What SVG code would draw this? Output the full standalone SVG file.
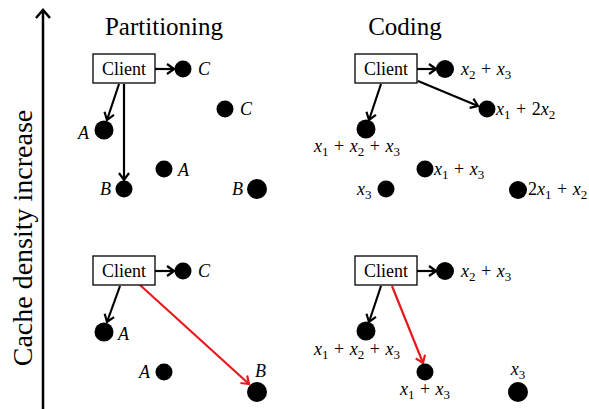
<svg xmlns="http://www.w3.org/2000/svg" width="589" height="409" viewBox="0 0 589 409" font-family="Liberation Serif">
<style>
.t{font-size:25px;text-anchor:middle}
.cl{font-size:18px;text-anchor:middle}
.lb{font-size:18px;font-style:italic}
.m{font-size:18px;word-spacing:1px}
.i{font-style:italic}
.s{font-size:13px}
.box{fill:#fff;stroke:#000;stroke-width:1.3}
.n{fill:#000}
.e{stroke:#000;stroke-width:2.2;fill:none}
.r{stroke:#e8181c;stroke-width:2.2;fill:none}
</style>
<defs>
<marker id="ah" viewBox="0 0 10 12" markerWidth="10" markerHeight="12" refX="9" refY="6" orient="auto" markerUnits="userSpaceOnUse">
<path d="M2,1 L9,6 L2,11" fill="none" stroke="#000" stroke-width="2.2"/>
</marker>
<marker id="ahr" viewBox="0 0 10 12" markerWidth="10" markerHeight="12" refX="9" refY="6" orient="auto" markerUnits="userSpaceOnUse">
<path d="M2,1 L9,6 L2,11" fill="none" stroke="#e8181c" stroke-width="2.2"/>
</marker>
</defs>

<g id="axis">
<line x1="43" y1="409" x2="43" y2="11" stroke="#000" stroke-width="2.5"/>
<polyline points="36,18 43,10 50,18" fill="none" stroke="#000" stroke-width="2.5"/>
<text transform="translate(32,238) rotate(-90)" font-family="Liberation Serif" font-size="28" text-anchor="middle">Cache density increase</text>
</g>

<g id="titles" font-family="Liberation Serif">
<text class="t" x="164" y="35">Partitioning</text>
<text class="t" x="405" y="35">Coding</text>
</g>

<g id="connectors">
<line class="e" x1="155" y1="69" x2="174" y2="69" marker-end="url(#ah)"/>
<line class="e" x1="119" y1="84" x2="107" y2="120" marker-end="url(#ah)"/>
<line class="e" x1="124" y1="84" x2="124" y2="180" marker-end="url(#ah)"/>
<line class="e" x1="417" y1="69" x2="436" y2="69" marker-end="url(#ah)"/>
<line class="e" x1="418" y1="81" x2="478" y2="106" marker-end="url(#ah)"/>
<line class="e" x1="381" y1="84" x2="369" y2="120" marker-end="url(#ah)"/>
<line class="e" x1="155" y1="271" x2="174" y2="271" marker-end="url(#ah)"/>
<line class="e" x1="120" y1="286" x2="107" y2="322" marker-end="url(#ah)"/>
<line class="r" x1="140" y1="285" x2="249" y2="384" marker-end="url(#ahr)"/>
<line class="e" x1="417" y1="271" x2="436" y2="271" marker-end="url(#ah)"/>
<line class="e" x1="381" y1="286" x2="369" y2="322" marker-end="url(#ah)"/>
<line class="r" x1="392" y1="286" x2="423" y2="363" marker-end="url(#ahr)"/>
</g>

<g id="nodes" font-family="Liberation Serif">
<g id="client-p1"><rect class="box" x="93" y="54" width="62" height="29"/><text class="cl" x="124" y="75">Client</text></g>
<g id="p1-C"><circle class="n" cx="183" cy="69" r="8.5"/><text class="lb" x="198" y="75">C</text></g>
<g id="p1-A"><circle class="n" cx="104" cy="130" r="9.5"/><text class="lb" x="78" y="139">A</text></g>
<g id="p1-B"><circle class="n" cx="124" cy="189" r="8.5"/><text class="lb" x="100" y="195">B</text></g>
<g id="p1-C2"><circle class="n" cx="225" cy="109" r="8.5"/><text class="lb" x="240" y="115">C</text></g>
<g id="p1-A2"><circle class="n" cx="164" cy="169" r="8.5"/><text class="lb" x="178" y="176">A</text></g>
<g id="p1-B2"><circle class="n" cx="257" cy="189" r="10"/><text class="lb" x="232" y="195">B</text></g>

<g id="client-c1"><rect class="box" x="355" y="54" width="62" height="29"/><text class="cl" x="386" y="75">Client</text></g>
<g id="c1-n1"><circle class="n" cx="445" cy="69" r="9"/><text class="m" x="461" y="75"><tspan class="i">x</tspan><tspan class="s" dy="4">2</tspan><tspan dy="-4"> + </tspan><tspan class="i">x</tspan><tspan class="s" dy="4">3</tspan></text></g>
<g id="c1-n2"><circle class="n" cx="487" cy="109" r="8.5"/><text class="m" x="496" y="115"><tspan class="i">x</tspan><tspan class="s" dy="4">1</tspan><tspan dy="-4"> + 2</tspan><tspan class="i">x</tspan><tspan class="s" dy="4">2</tspan></text></g>
<g id="c1-n3"><circle class="n" cx="366" cy="129" r="9.5"/><text class="m" x="357" y="152" text-anchor="middle"><tspan class="i">x</tspan><tspan class="s" dy="4">1</tspan><tspan dy="-4"> + </tspan><tspan class="i">x</tspan><tspan class="s" dy="4">2</tspan><tspan dy="-4"> + </tspan><tspan class="i">x</tspan><tspan class="s" dy="4">3</tspan></text></g>
<g id="c1-n4"><circle class="n" cx="425" cy="169" r="8.5"/><text class="m" x="434" y="175"><tspan class="i">x</tspan><tspan class="s" dy="4">1</tspan><tspan dy="-4"> + </tspan><tspan class="i">x</tspan><tspan class="s" dy="4">3</tspan></text></g>
<g id="c1-n5"><circle class="n" cx="386" cy="189" r="8.5"/><text class="m" x="357" y="195"><tspan class="i">x</tspan><tspan class="s" dy="4">3</tspan></text></g>
<g id="c1-n6"><circle class="n" cx="518" cy="190" r="9"/><text class="m" x="528" y="195">2<tspan class="i">x</tspan><tspan class="s" dy="4">1</tspan><tspan dy="-4"> + </tspan><tspan class="i">x</tspan><tspan class="s" dy="4">2</tspan></text></g>

<g id="client-p2"><rect class="box" x="93" y="256" width="62" height="29"/><text class="cl" x="124" y="277">Client</text></g>
<g id="p2-C"><circle class="n" cx="183" cy="271" r="8.5"/><text class="lb" x="198" y="277">C</text></g>
<g id="p2-A"><circle class="n" cx="104" cy="332" r="9.5"/><text class="lb" x="118" y="340">A</text></g>
<g id="p2-A2"><circle class="n" cx="164" cy="372" r="8.5"/><text class="lb" x="139" y="378">A</text></g>
<g id="p2-B"><circle class="n" cx="257" cy="392" r="10"/><text class="lb" x="255" y="377">B</text></g>

<g id="client-c2"><rect class="box" x="355" y="256" width="62" height="29"/><text class="cl" x="386" y="277">Client</text></g>
<g id="c2-n1"><circle class="n" cx="445" cy="271" r="9"/><text class="m" x="461" y="277"><tspan class="i">x</tspan><tspan class="s" dy="4">2</tspan><tspan dy="-4"> + </tspan><tspan class="i">x</tspan><tspan class="s" dy="4">3</tspan></text></g>
<g id="c2-n2"><circle class="n" cx="366" cy="331" r="9.5"/><text class="m" x="357" y="355" text-anchor="middle"><tspan class="i">x</tspan><tspan class="s" dy="4">1</tspan><tspan dy="-4"> + </tspan><tspan class="i">x</tspan><tspan class="s" dy="4">2</tspan><tspan dy="-4"> + </tspan><tspan class="i">x</tspan><tspan class="s" dy="4">3</tspan></text></g>
<g id="c2-n3"><circle class="n" cx="425" cy="372" r="8.5"/><text class="m" x="425" y="395" text-anchor="middle"><tspan class="i">x</tspan><tspan class="s" dy="4">1</tspan><tspan dy="-4"> + </tspan><tspan class="i">x</tspan><tspan class="s" dy="4">3</tspan></text></g>
<g id="c2-n4"><circle class="n" cx="518" cy="392" r="10"/><text class="m" x="518" y="375" text-anchor="middle"><tspan class="i">x</tspan><tspan class="s" dy="4">3</tspan></text></g>
</g>
</svg>
